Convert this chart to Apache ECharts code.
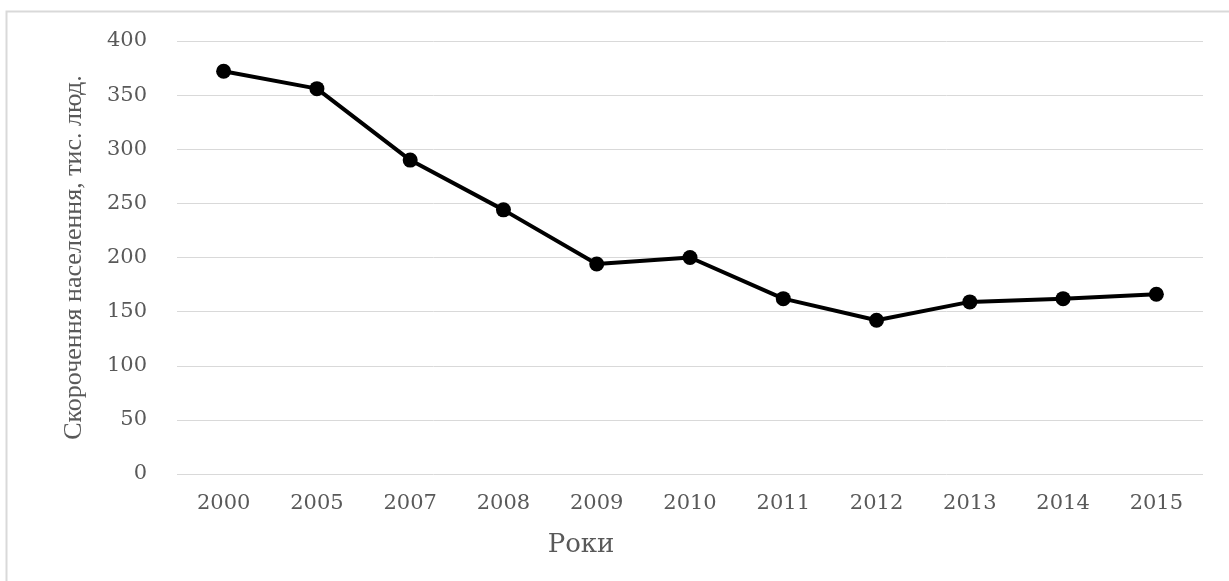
<!DOCTYPE html>
<html lang="uk">
<head>
<meta charset="UTF-8">
<style>
html, body { height: 100%; margin: 0; background: #fff; }
</style>
</head>
<body>
<div id="chart" style="width:1229px;height:581px;"></div>
<script src="https://cdn.jsdelivr.net/npm/echarts@6/dist/echarts.min.js"></script>
<script>
var years = ['2000', '2005', '2007', '2008', '2009', '2010', '2011', '2012', '2013', '2014', '2015'];
var decline = [372, 356, 290, 244, 194, 200, 162, 142, 159, 162, 166];
var yTitle = 'Скорочення населення, тис. люд.';
var xTitle = 'Роки';

// the original text looks stretched sideways, DejaVu Serif is the closer width
var wide = '"DejaVu Serif", "Liberation Serif", serif';
var serif = '"Liberation Serif", "DejaVu Serif", serif';
var myChart = echarts.init(document.getElementById('chart'));
myChart.setOption({
    animation: false,
    grid: { left: 177, right: 26, top: 41, bottom: 107 },
    graphic: [
        {
            type: 'rect',
            shape: { x: 6.5, y: 11.5, width: 1400, height: 800 },
            style: { fill: 'none', stroke: '#d9d9d9', lineWidth: 2 },
            silent: true
        },
        {
            type: 'text',
            x: 581, y: 545,
            style: { text: xTitle, font: '26px ' + wide, fill: '#595959', textAlign: 'center', textVerticalAlign: 'middle' }
        }
    ],
    xAxis: {
        type: 'category',
        data: years,
        boundaryGap: true,
        axisLine: { show: false },
        axisTick: { show: false },
        axisLabel: { color: '#595959', fontFamily: wide, fontSize: 21, margin: 19 }
    },
    yAxis: {
        type: 'value',
        min: 0, max: 400, interval: 50,
        name: yTitle,
        nameLocation: 'middle',
        nameGap: 90,
        nameTextStyle: { color: '#595959', fontFamily: serif, fontSize: 26 },
        axisLine: { show: false },
        axisTick: { show: false },
        axisLabel: { color: '#595959', fontFamily: wide, fontSize: 21, margin: 30 },
        splitLine: { lineStyle: { color: '#d9d9d9', width: 1 } }
    },
    series: [{
        type: 'line',
        data: decline,
        symbol: 'circle',
        symbolSize: 15,
        lineStyle: { color: '#000', width: 4 },
        itemStyle: { color: '#000' }
    }]
});
</script>
</body>
</html>
